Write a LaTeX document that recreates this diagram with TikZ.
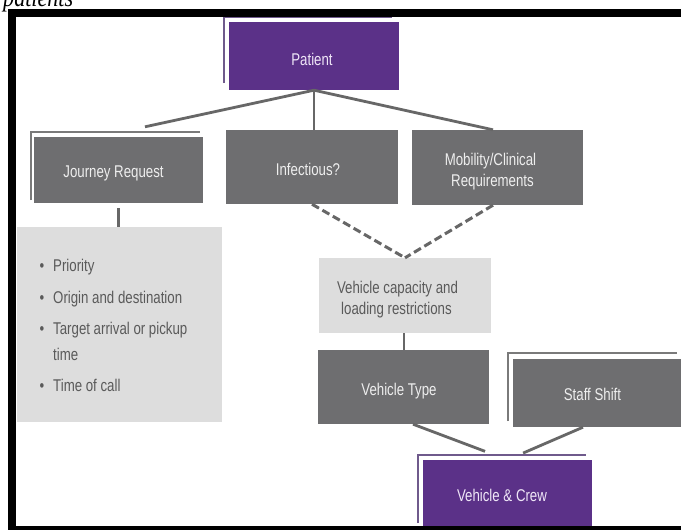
\documentclass[tikz,border=0pt]{standalone}
\usepackage{fontspec}
\setmainfont[FakeStretch=0.78]{Liberation Sans}
\newfontfamily\serifcap[FakeStretch=0.85]{Liberation Serif}
\usetikzlibrary{calc,backgrounds}
\definecolor{purp}{HTML}{5B3188}
\definecolor{purpline}{HTML}{6F5A8C}
\definecolor{boxgray}{HTML}{6E6E70}
\definecolor{lightbox}{HTML}{DDDDDD}
\definecolor{wtextc}{HTML}{EEEEEE}
\definecolor{ptextc}{HTML}{EFE6F7}
\definecolor{btextc}{HTML}{5A5A5A}
\definecolor{linegray}{HTML}{676767}
\definecolor{outgray}{HTML}{7A7A7A}
\tikzset{
  gbox/.style={fill=boxgray, inner sep=0pt},
  pbox/.style={fill=purp, inner sep=0pt},
  lbox/.style={fill=lightbox, inner sep=0pt},
  wtxt/.style={text=wtextc, anchor=base, inner sep=0pt, font=\fontsize{17}{20}\selectfont},
  ptxt/.style={wtxt, text=ptextc},
  btxt/.style={wtxt, text=btextc, anchor=base west},
  bdot/.style={wtxt, text=btextc},
  conn/.style={draw=linegray, line width=2.8pt},
  dconn/.style={draw=linegray, line width=3pt, dash pattern=on 8pt off 4pt},
  gout/.style={draw=outgray, line width=1.5pt},
  pout/.style={draw=purpline, line width=1.5pt},
}
\begin{document}
\begin{tikzpicture}[x=1pt,y=-1pt]
\useasboundingbox (0,0) rectangle (681,530);
\clip (0,0) rectangle (681,530);

% caption fragment
\node[anchor=base west, inner sep=0pt, font=\serifcap\itshape\fontsize{26}{26}\selectfont] (cap) at (3,6.5) {patients};

% boxes
\node[pbox, minimum width=170pt, minimum height=68pt] (pat) at (314,56) {};
\node[gbox, minimum width=169pt, minimum height=66pt] (jr) at (118.5,170) {};
\node[gbox, minimum width=172pt, minimum height=74pt] (inf) at (312,167) {};
\node[gbox, minimum width=171pt, minimum height=75pt] (mob) at (497.5,167.5) {};
\node[lbox, minimum width=205pt, minimum height=195pt] (bl) at (119.5,324.5) {};
\node[lbox, minimum width=172pt, minimum height=75pt] (vcap) at (405,295.5) {};
\node[gbox, minimum width=171pt, minimum height=74pt] (vt) at (403.5,387) {};
\node[gbox, minimum width=169pt, minimum height=68pt] (ss) at (597.5,393) {};
\node[pbox, minimum width=169pt, minimum height=68pt] (vc) at (507.5,494) {};

% offset outlines behind (only top and left edges show)
\begin{scope}[on background layer]
  \fill[white] (0,0) rectangle (681,530);
  \draw[pout] ($(pat.south west)+(-5,-7)$) -- ($(pat.north west)+(-5,-5)$) -- ($(pat.north east)+(-7,-5)$);
  \draw[gout] ($(jr.south west)+(-3,-3)$) -- ($(jr.north west)+(-3,-5)$) -- ($(jr.north east)+(-3,-5)$);
  \draw[gout] ($(ss.south west)+(-5,-6)$) -- ($(ss.north west)+(-5,-6)$) -- ($(ss.north east)+(-5,-6)$);
  \draw[pout] ($(vc.south west)+(-5,-5)$) -- ($(vc.north west)+(-5,-5)$) -- ($(vc.north east)+(-6,-5)$);
\end{scope}

% texts
\node[ptxt] (patt) at (312,65) {Patient};
\node[wtxt] (jrt) at (113.5,177) {Journey Request};
\node[wtxt] (inft) at (308,175.5) {Infectious?};
\node[wtxt] (mobt1) at (490.5,165) {Mobility/Clinical};
\node[wtxt] (mobt2) at (492.5,186) {Requirements};
\node[wtxt, text=btextc] (vct1) at (397.5,293) {Vehicle capacity and};
\node[wtxt, text=btextc] (vct2) at (396.5,314) {loading restrictions};
\node[wtxt] (vtt) at (399,395) {Vehicle Type};
\node[wtxt] (sst) at (592.5,400) {Staff Shift};
\node[ptxt] (vcct) at (502,501.5) {Vehicle \& Crew};

% bullet list
\node[bdot] (d1) at (42,271.5) {\textbullet};
\node[btxt] (l1) at (53,271.5) {Priority};
\node[bdot] (d2) at (42,303) {\textbullet};
\node[btxt] (l2) at (53,303) {Origin and destination};
\node[bdot] (d3) at (42,334) {\textbullet};
\node[btxt] (l3) at (53,334) {Target arrival or pickup};
\node[btxt] (l4) at (53,360) {time};
\node[bdot] (d5) at (42,391) {\textbullet};
\node[btxt] (l5) at (53,391) {Time of call};

% connectors
\draw[conn] (pat.south) -- ([xshift=26.5pt,yshift=10pt]jr.north);
\draw[conn] (pat.south) -- (pat.south |- inf.north);
\draw[conn] (pat.south) -- ([xshift=-4.5pt]mob.north);
\draw[conn] ([yshift=-5pt]jr.south) -- (jr.south |- bl.north);
\draw[dconn] (inf.south) -- (vcap.north);
\draw[dconn] ([xshift=-4.5pt]mob.south) -- (vcap.north);
\draw[conn] ([xshift=-1pt]vcap.south) -- ([xshift=-1pt]vcap.south |- vt.north);
\draw[conn, shorten >=24pt] ([xshift=9.5pt]vt.south) -- (vc.north);
\draw[conn, shorten >=17pt] ([xshift=-14.5pt]ss.south) -- (vc.north);

% black frame
\draw[line width=7.5pt, line join=miter] (720,13) -- (12,13) -- (12,530) -- (720,530);
\end{tikzpicture}
\end{document}
